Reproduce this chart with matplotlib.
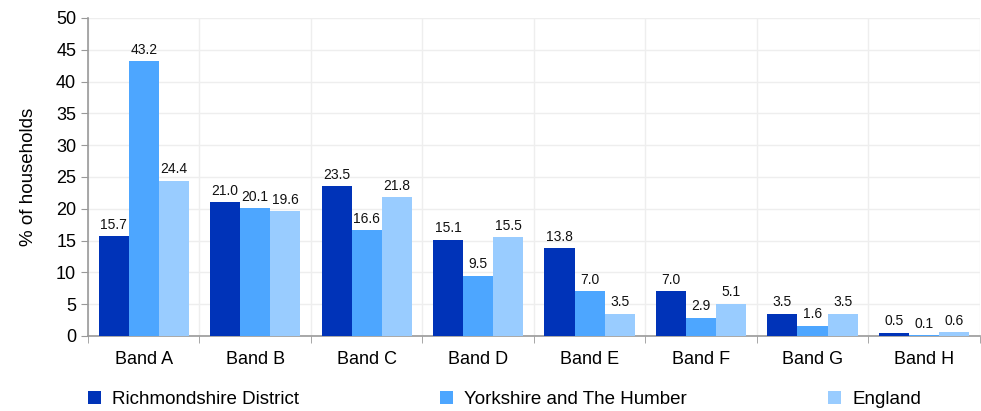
import matplotlib
matplotlib.use("Agg")
import matplotlib.pyplot as plt
import numpy as np

plt.rcParams['font.family'] = ['Liberation Sans', 'DejaVu Sans']

bands = ["Band A", "Band B", "Band C", "Band D", "Band E", "Band F", "Band G", "Band H"]
richmondshire = [15.7, 21.0, 23.5, 15.1, 13.8, 7.0, 3.5, 0.5]
yorkshire = [43.2, 20.1, 16.6, 9.5, 7.0, 2.9, 1.6, 0.1]
england = [24.4, 19.6, 21.8, 15.5, 3.5, 5.1, 3.5, 0.6]

series = [("Richmondshire District", richmondshire, "#0033b8"),
          ("Yorkshire and The Humber", yorkshire, "#4da6ff"),
          ("England", england, "#99ccff")]

fig = plt.figure(figsize=(9.81, 4.11), dpi=100)
ax = fig.add_axes([0.0897, 0.1825, 0.909, 0.774])

x = np.arange(len(bands))
w = 0.27
for i, (name, vals, col) in enumerate(series):
    pos = x + (i - 1) * w
    ax.bar(pos, vals, w, color=col, label=name, zorder=3)
    for p, v in zip(pos, vals):
        ax.text(p, v + 0.7, f"{v:.1f}", ha="center", va="bottom", fontsize=10, color="#111111")

ax.set_xlim(-0.5, len(bands) - 0.5)
ax.set_ylim(0, 50)
ax.set_yticks(range(0, 51, 5))
ax.set_xticks(x)
ax.set_xticklabels(bands, fontsize=13)
ax.tick_params(axis="x", length=0, pad=11)
ax.set_xticks(np.arange(-0.5, len(bands)), minor=True)
ax.tick_params(axis="x", which="minor", length=5, color="#999999")
ax.tick_params(axis="y", labelsize=13, length=5, color="#999999")
ax.grid(axis="y", color="#eeeeee", lw=1, zorder=0)
ax.grid(axis="x", which="minor", color="#eeeeee", lw=1, zorder=0)
for s in ["top", "right"]:
    ax.spines[s].set_visible(False)
for s in ["left", "bottom"]:
    ax.spines[s].set_color("#999999")
    ax.spines[s].set_linewidth(1.2)
ax.set_ylabel("% of households", fontsize=13.5, labelpad=14)

ax.legend(loc="center left", bbox_to_anchor=(0.0, -0.2), ncol=3, frameon=False,
          fontsize=13.5, handlelength=0.7, handleheight=0.7, handletextpad=0.6,
          columnspacing=7.5, borderaxespad=0, borderpad=0)

fig.savefig("out.png", dpi=100)
